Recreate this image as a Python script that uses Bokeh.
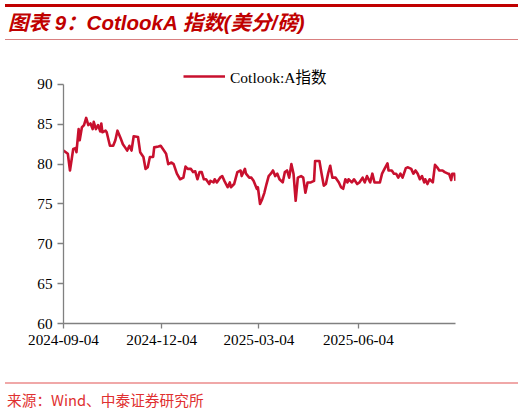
import pandas as pd
from bokeh.embed import file_html
from bokeh.resources import INLINE
from bokeh.plotting import figure
from bokeh.layouts import column
from bokeh.models import (ColumnDataSource, Div, Range1d, FixedTicker,
                          DatetimeTickFormatter, Legend, LegendItem)

# Cotlook A index, US cents per pound
dates = [
    "2024-09-04", "2024-09-08", "2024-09-10", "2024-09-13", "2024-09-15", "2024-09-16",
    "2024-09-18", "2024-09-19", "2024-09-21", "2024-09-23", "2024-09-25", "2024-09-27", "2024-09-29",
    "2024-10-01", "2024-10-02", "2024-10-04", "2024-10-06", "2024-10-08", "2024-10-09", "2024-10-10",
    "2024-10-13", "2024-10-14", "2024-10-17", "2024-10-20", "2024-10-22", "2024-10-24", "2024-10-27",
    "2024-10-29", "2024-10-31",
    "2024-11-02", "2024-11-04", "2024-11-06", "2024-11-08", "2024-11-12", "2024-11-14", "2024-11-17",
    "2024-11-19", "2024-11-21", "2024-11-23", "2024-11-26", "2024-11-27",
    "2024-12-01", "2024-12-03", "2024-12-06", "2024-12-08", "2024-12-10", "2024-12-13", "2024-12-15",
    "2024-12-18", "2024-12-21", "2024-12-24", "2024-12-26", "2024-12-28", "2024-12-31",
    "2025-01-02", "2025-01-04", "2025-01-06", "2025-01-08", "2025-01-10", "2025-01-12", "2025-01-14",
    "2025-01-17", "2025-01-18", "2025-01-21", "2025-01-22", "2025-01-24", "2025-01-27", "2025-01-29",
    "2025-01-31",
    "2025-02-03", "2025-02-05", "2025-02-06", "2025-02-09", "2025-02-12", "2025-02-15", "2025-02-16",
    "2025-02-19", "2025-02-20", "2025-02-23", "2025-02-25", "2025-02-27",
    "2025-03-02", "2025-03-03", "2025-03-05", "2025-03-07", "2025-03-09", "2025-03-11", "2025-03-13",
    "2025-03-15", "2025-03-17", "2025-03-19", "2025-03-21", "2025-03-23", "2025-03-26", "2025-03-28",
    "2025-03-30",
    "2025-04-01", "2025-04-03", "2025-04-05", "2025-04-07", "2025-04-09", "2025-04-12", "2025-04-14",
    "2025-04-16", "2025-04-18", "2025-04-21", "2025-04-24", "2025-04-25", "2025-04-29",
    "2025-05-01", "2025-05-03", "2025-05-05", "2025-05-07", "2025-05-09", "2025-05-11", "2025-05-14",
    "2025-05-17", "2025-05-19", "2025-05-21", "2025-05-23", "2025-05-25", "2025-05-26", "2025-05-29",
    "2025-05-31",
    "2025-06-03", "2025-06-05", "2025-06-08", "2025-06-10", "2025-06-12", "2025-06-15", "2025-06-17",
    "2025-06-19", "2025-06-22", "2025-06-24", "2025-06-26", "2025-06-29",
    "2025-07-01", "2025-07-02", "2025-07-05", "2025-07-07", "2025-07-09", "2025-07-11", "2025-07-13",
    "2025-07-15", "2025-07-18", "2025-07-20", "2025-07-23", "2025-07-25", "2025-07-27", "2025-07-29",
    "2025-07-31",
    "2025-08-02", "2025-08-04", "2025-08-05", "2025-08-07", "2025-08-09", "2025-08-12", "2025-08-14",
    "2025-08-16", "2025-08-18", "2025-08-21", "2025-08-23", "2025-08-26", "2025-08-27", "2025-08-29",
    "2025-08-30",
    "2025-09-01", "2025-09-02",
]
cotlook_a = [
    81.7, 81.3, 79.2, 81.9, 82.0, 81.5,
    84.4, 83.0, 84.6, 84.9, 85.8, 84.9, 85.1,
    84.4, 85.3, 84.4, 84.9, 84.1, 85.1, 84.0,
    84.2, 84.0, 82.3, 82.3, 83.0, 84.2, 83.2,
    82.5, 82.1,
    81.7, 82.3, 81.7, 83.5, 83.4, 81.5, 80.9,
    79.4, 79.6, 80.9, 80.9, 82.1,
    82.2, 82.3, 81.7, 81.3, 80.0, 80.2, 80.0,
    78.8, 78.1, 78.3, 79.7, 79.4, 79.4,
    79.0, 79.1, 78.1, 79.0, 79.0, 78.1, 78.1,
    77.5, 77.9, 77.7, 78.1, 77.7, 78.3, 78.5,
    77.9,
    77.1, 77.7, 77.1, 77.5, 79.0, 79.2, 78.5,
    79.4, 78.8, 78.3, 78.3, 77.9,
    76.9, 77.1, 75.0, 75.6, 76.4, 77.5, 78.5,
    78.8, 79.2, 78.5, 78.8, 78.1, 77.7, 79.0,
    79.2,
    78.3, 80.0, 78.8, 75.4, 78.3, 78.5, 78.3,
    76.4, 77.7, 77.7, 77.9, 80.4, 80.4,
    78.8, 77.3, 77.5, 78.8, 79.8, 78.3, 78.3,
    77.7, 77.1, 76.9, 78.1, 77.7, 78.1, 77.7,
    78.1,
    77.5, 77.7, 78.3, 77.7, 78.5, 77.7, 78.8,
    77.7, 77.7, 77.7, 78.8, 79.6,
    80.1, 79.2, 79.2, 78.8, 78.8, 78.3, 78.8,
    78.3, 79.5, 79.6, 79.4, 78.8, 79.2, 78.8,
    78.1,
    78.5, 77.7, 78.1, 77.5, 78.1, 77.7, 79.9,
    79.6, 79.2, 79.2, 79.0, 78.8, 78.8, 78.0,
    78.8,
    78.8, 77.9,
]
assert len(dates) == len(cotlook_a)

tick_dates = ["2024-09-04", "2024-12-04", "2025-03-04", "2025-06-04"]
y_ticks = [60, 65, 70, 75, 80, 85, 90]
x_start, x_end = "2024-09-04", "2025-09-02"

LINE_COLOR = "#C8102E"
SERIF = "Liberation Serif, Noto Sans CJK SC"

source = ColumnDataSource(data=dict(date=pd.to_datetime(dates), value=cotlook_a))

# header: thick red rule, title, thin rule
header = Div(
    text='<div style="position:relative;width:524px;height:41px;">'
         '<div style="position:absolute;left:5px;top:4px;width:513px;height:3px;background:#C00000;"></div>'
         '<div style="position:absolute;left:8px;top:9px;line-height:28px;white-space:nowrap;'
         "font-family:'Liberation Sans','Noto Sans CJK SC';font-weight:bold;font-style:italic;"
         'font-size:20.5px;color:#C00000;">图表 9：CotlookA 指数(美分/磅)</div>'
         '<div style="position:absolute;left:5px;top:39px;width:513px;height:1px;background:#D98080;"></div>'
         '</div>',
    width=524, height=41, margin=(0, 0, 0, 0))

# frame runs a little above 90 so the legend fits inside it;
# the y axis line itself stops at 90 through its bounds
p = figure(width=524, height=337, x_axis_type="datetime",
           x_range=Range1d(pd.Timestamp(x_start), pd.Timestamp(x_end)),
           y_range=Range1d(60, 92.5),
           toolbar_location=None, output_backend="svg",
           min_border_left=63, min_border_right=69,
           min_border_top=23, min_border_bottom=55,
           margin=(0, 0, 0, 0))
p.outline_line_color = None
p.xgrid.visible = False
p.ygrid.visible = False

r = p.line(x="date", y="value", source=source, color=LINE_COLOR, line_width=2.6,
           line_join="round")

# axes
p.xaxis.ticker = FixedTicker(ticks=[pd.Timestamp(d).value / 1e6 for d in tick_dates])
p.xaxis.formatter = DatetimeTickFormatter(days="%Y-%m-%d", months="%Y-%m-%d",
                                          years="%Y-%m-%d")
p.yaxis.ticker = FixedTicker(ticks=y_ticks)
p.yaxis.bounds = (60, 90)
for ax in (p.xaxis, p.yaxis):
    ax.axis_line_color = "#808080"
    ax.axis_line_width = 1.3
    ax.major_tick_line_color = "#808080"
    ax.major_tick_line_width = 1.3
    ax.major_tick_in = 0
    ax.minor_tick_line_color = None
    ax.major_label_text_font = SERIF
    ax.major_label_text_font_size = "15.2px"
    ax.major_label_text_color = "#000000"
p.xaxis.major_tick_out = 5
p.xaxis.major_label_standoff = 6
p.yaxis.major_tick_out = 6
p.yaxis.major_label_standoff = 5

leg = Legend(items=[LegendItem(label="Cotlook:A指数", renderers=[r])],
             location=(120, 236), orientation="horizontal",
             padding=0, margin=0, spacing=0,
             border_line_color=None, background_fill_alpha=0,
             glyph_width=42, glyph_height=16, label_height=16, label_standoff=5,
             label_text_font=SERIF, label_text_font_size="15.5px",
             label_text_color="#000000")
p.add_layout(leg, "center")

# footer: pink rule and source note
footer = Div(
    text='<div style="position:relative;width:524px;height:33px;">'
         '<div style="position:absolute;left:5px;top:4px;width:513px;height:1.5px;background:#F0A8A8;"></div>'
         '<div style="position:absolute;left:7px;top:11px;line-height:21px;white-space:nowrap;'
         "font-family:'Noto Sans CJK SC','Liberation Sans';font-size:14.7px;"
         'color:#E03030;">来源：Wind、中泰证券研究所</div>'
         '</div>',
    width=524, height=33, margin=(0, 0, 0, 0))

layout = column(header, p, footer, spacing=0)

open("out.html", "w").write(file_html(layout, INLINE))
